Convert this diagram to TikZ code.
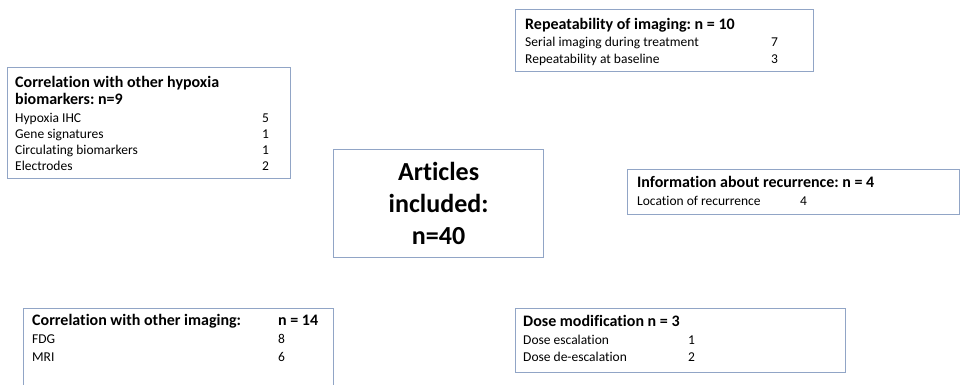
\documentclass[tikz,border=0pt]{standalone}
\usepackage{fontspec}
\setmainfont[Ligatures=NoCommon]{Carlito}
\frenchspacing
\definecolor{boxline}{RGB}{145,165,198}
\begin{document}
\begin{tikzpicture}[
                x=1pt,y=-1pt,
                box/.style={draw=boxline,line width=1.2pt,anchor=north west,inner sep=0pt},
                head/.style={anchor=base west,inner sep=0pt,font=\fontsize{16}{19}\selectfont\bfseries},
                item/.style={anchor=base west,inner sep=0pt,font=\fontsize{13.5}{16}\selectfont},
                total/.style={align=center,inner sep=0pt,font=\fontsize{26}{32}\selectfont\bfseries}
            ]
            \useasboundingbox (0,0) rectangle (962,384);
            \clip (0,0) rectangle (962,384);

            % centre
            \node[box,minimum width=210pt,minimum height=108pt] (all) at (333,149) {};
            \node[total] (allText) at (all.center) {Articles\\included:\\n=40};

            % hypoxia biomarkers
            \node[box,minimum width=283pt,minimum height=111pt] (hyp) at (7,67) {};
            \node[head] (hypHead) at (15,87) {Correlation with other hypoxia};
            \node[head] (hypHeadB) at (15,104) {biomarkers: n=9};
            \node[item] (hypA) at (15,122) {Hypoxia IHC};
            \node[item] (hypB) at (15,138) {Gene signatures};
            \node[item] (hypC) at (15,154) {Circulating biomarkers};
            \node[item] (hypD) at (15,170) {Electrodes};
            \node[item] (hypAn) at (262,122) {5};
            \node[item] (hypBn) at (262,138) {1};
            \node[item] (hypCn) at (262,154) {1};
            \node[item] (hypDn) at (262,170) {2};

            % repeatability
            \node[box,minimum width=298pt,minimum height=62pt] (rep) at (515,9) {};
            \node[head] (repHead) at (525,29) {Repeatability of imaging: n = 10};
            \node[item] (repA) at (525,46) {Serial imaging during treatment};
            \node[item] (repB) at (525,63) {Repeatability at baseline};
            \node[item] (repAn) at (771,46) {7};
            \node[item] (repBn) at (771,63) {3};

            % recurrence
            \node[box,minimum width=332pt,minimum height=45pt] (rec) at (627,169) {};
            \node[head] (recHead) at (637,187) {Information about recurrence: n = 4};
            \node[item] (recA) at (637,205) {Location of recurrence};
            \node[item] (recAn) at (800,205) {4};

            % other imaging (runs past the lower edge)
            \node[box,minimum width=310pt,minimum height=90pt] (img) at (23,308) {};
            \node[head] (imgHead) at (32,325) {Correlation with other imaging:};
            \node[head] (imgHeadN) at (278,325) {n = 14};
            \node[item] (imgA) at (32,343) {FDG};
            \node[item] (imgB) at (32,361) {MRI};
            \node[item] (imgAn) at (278,343) {8};
            \node[item] (imgBn) at (278,361) {6};

            % dose
            \node[box,minimum width=330pt,minimum height=64pt] (dose) at (515,308) {};
            \node[head] (doseHead) at (523,326) {Dose modification n = 3};
            \node[item] (doseA) at (523,344) {Dose escalation};
            \node[item] (doseB) at (523,361) {Dose de-escalation};
            \node[item] (doseAn) at (688,344) {1};
            \node[item] (doseBn) at (688,361) {2};

        \end{tikzpicture}
\end{document}
